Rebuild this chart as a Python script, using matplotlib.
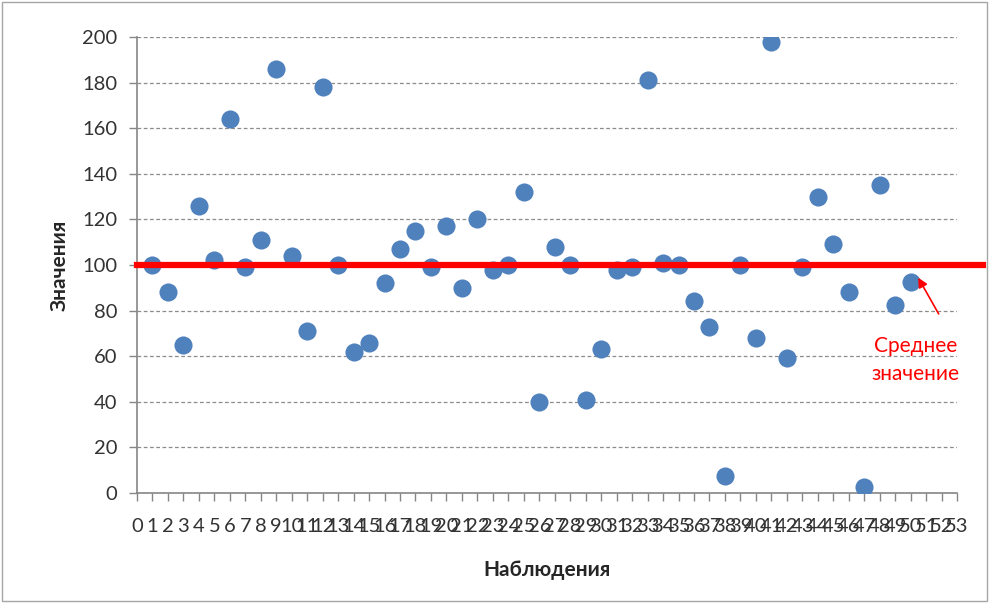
import numpy as np
import matplotlib.pyplot as plt
from matplotlib.patches import Rectangle

plt.rcParams['font.family'] = ['Lato', 'DejaVu Sans']

# наблюдения и значения
nabl = list(range(1, 51))
znach = [100, 88, 65, 126, 102, 164, 99, 111, 186, 104,
         71, 178, 100, 62, 66, 92, 107, 115, 99, 117,
         90, 120, 98, 100, 132, 40, 108, 100, 41, 63,
         98, 99, 181, 101, 100, 84, 73, 7.5, 100, 68,
         198, 59, 99, 130, 109, 88, 2.5, 135, 82.5, 92.5]
srednee = 100
x_ticks = list(range(0, 54))
y_ticks = list(range(0, 201, 20))

fig = plt.figure(figsize=(9.89, 6.03), dpi=100)
ax = fig.add_axes([0.1385, 0.1824, 0.8292, 0.7562])

# рамка вокруг диаграммы
fig.patches.append(Rectangle((0.002, 0.004), 0.996, 0.993, transform=fig.transFigure,
                             fill=False, edgecolor='#a6a6a6', linewidth=1))

ax.set_xlim(0, 53)
ax.set_ylim(0, 200)
ax.set_xticks(x_ticks)
ax.set_yticks(y_ticks)
ax.set_xticklabels([str(t) for t in x_ticks])
ax.tick_params(axis='both', colors='#868686', labelcolor='#333333',
               direction='out', length=6, width=1, labelsize=14.5)
ax.tick_params(axis='x', pad=12)
ax.tick_params(axis='y', pad=8)

ax.grid(axis='y', linestyle=(0, (3, 2)), color='#8c8c8c', linewidth=0.9)
ax.set_axisbelow(True)
for s in ['top', 'right']:
    ax.spines[s].set_visible(False)
for s in ['left', 'bottom']:
    ax.spines[s].set_color('#868686')
    ax.spines[s].set_linewidth(1.2)

ax.scatter(nabl, znach, s=170, color='#4f81bd', zorder=3, linewidths=0)
ax.axhline(srednee, xmin=0, xmax=1.032, color='#ff0000', linewidth=4.5,
           clip_on=False, zorder=4)

ax.annotate('', xy=(50.4, 95.5), xytext=(51.9, 77.5),
            arrowprops=dict(arrowstyle='-|>', color='#ff0000', lw=1.2,
                            mutation_scale=14), zorder=5)
ax.text(50.3, 58.3, 'Среднее\nзначение', color='#ff0000', fontsize=15,
        ha='center', va='center', linespacing=1.5)

ax.set_xlabel('Наблюдения', fontsize=15, fontweight='bold', color='#262626', labelpad=18)
ax.set_ylabel('Значения', fontsize=15, fontweight='bold', color='#262626', labelpad=9)

fig.savefig('out.png', dpi=100)
